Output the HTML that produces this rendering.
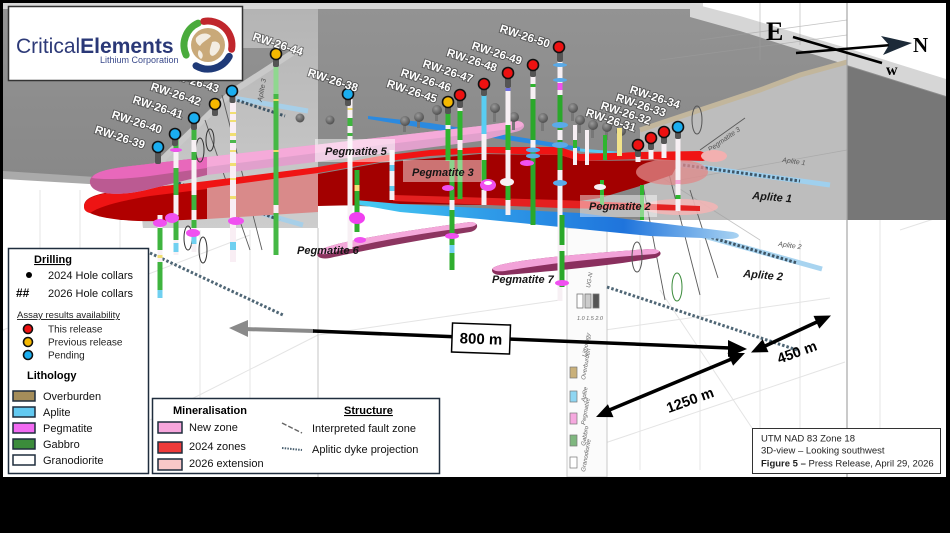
<!DOCTYPE html>
<html><head><meta charset="utf-8">
<style>
html,body{margin:0;padding:0;background:#000;}
svg{display:block;}
text{font-family:"Liberation Sans",Arial,sans-serif;}
.lb{font-size:11.5px;font-weight:bold;fill:#fff;stroke:rgba(40,40,40,0.55);stroke-width:1.8px;paint-order:stroke;}
.pl{font-size:11px;font-weight:bold;font-style:italic;fill:#161616;}
.lg{font-size:11px;fill:#111;}
.serif{font-family:"Liberation Serif",serif !important;font-weight:bold;}
</style></head><body>
<svg width="950" height="533" viewBox="0 0 950 533" xmlns="http://www.w3.org/2000/svg">
<defs>
 <linearGradient id="gLight" x1="0" y1="0" x2="0" y2="1">
  <stop offset="0" stop-color="#b4b4b4"/><stop offset="1" stop-color="#cdcdcd"/>
 </linearGradient>
 <linearGradient id="gMain" x1="0" y1="0" x2="0" y2="1">
  <stop offset="0" stop-color="#939393"/><stop offset="1" stop-color="#858585"/>
 </linearGradient>
 <linearGradient id="gBlue" x1="0" y1="0" x2="1" y2="0">
  <stop offset="0" stop-color="#48cdf3"/><stop offset="0.35" stop-color="#2f9be8"/><stop offset="0.7" stop-color="#1f74dc"/><stop offset="1" stop-color="#a9d3f2"/>
 </linearGradient>
 <radialGradient id="gBall" cx="0.4" cy="0.35" r="0.7">
  <stop offset="0" stop-color="#9a9a9a"/><stop offset="1" stop-color="#4a4a4a"/>
 </radialGradient>
</defs>

<!-- frame / background -->
<rect width="950" height="533" fill="#000"/>
<rect x="3" y="3" width="943" height="474" fill="#fff"/>

<!-- faint grid in white area -->
<g stroke="#e4e4e4" stroke-width="1" fill="none">
 <line x1="40" y1="190" x2="40" y2="470"/><line x1="80" y1="190" x2="80" y2="470"/>
 <line x1="120" y1="215" x2="120" y2="470"/><line x1="200" y1="230" x2="200" y2="400"/>
 <line x1="250" y1="230" x2="250" y2="400"/><line x1="3" y1="330" x2="250" y2="235"/>
 <line x1="150" y1="420" x2="318" y2="335"/><line x1="318" y1="335" x2="560" y2="300"/>
 <line x1="605" y1="443" x2="845" y2="362"/><line x1="605" y1="330" x2="830" y2="298"/>
 <line x1="640" y1="230" x2="640" y2="470"/><line x1="700" y1="240" x2="700" y2="470"/>
 <line x1="760" y1="240" x2="760" y2="470"/><line x1="800" y1="240" x2="800" y2="470"/>
 <line x1="880" y1="220" x2="880" y2="470"/><line x1="900" y1="230" x2="946" y2="215"/>
 <line x1="660" y1="290" x2="760" y2="440"/>
</g>

<!-- main gray surface -->
<polygon fill="url(#gMain)" points="3,8 700,8 740,22 800,40 850,55 946,85 946,220 640,220 580,219 480,212 318,204 318,228 143,228 141,185 3,176"/>
<rect x="3" y="3" width="700" height="6" fill="#d8d8d8"/>
<polygon fill="#d6d6d6" points="690,3 740,16 800,34 850,49 946,79 946,96 850,66 800,50 740,31 690,17"/>
<!-- left translucent light plane -->
<polygon fill="url(#gLight)" points="243,9 318,9 318,228 143,228 141,182 232,92 300,48 243,48"/>
<polyline fill="none" stroke="#c9c9c9" stroke-width="6" points="300,48 232,92 141,180"/>
<polygon fill="#aaaaaa" points="3,171 141,180 141,187 3,179"/>
<!-- right translucent plane -->
<polygon fill="#bdbdbd" points="640,130 700,110 760,90 800,75 847,62 847,220 640,220"/>
<polyline fill="none" stroke="#c2b69c" stroke-width="5" points="640,130 700,110 760,90 800,75 847,62"/>
<polygon fill="#777" points="847,66 946,97 946,220 847,220"/>
<line x1="847" y1="3" x2="847" y2="477" stroke="#a6a6a6" stroke-width="1.2"/>
<line x1="318" y1="228" x2="318" y2="477" stroke="#cfcfcf" stroke-width="1.2"/>
<g stroke="#9e9e9e" stroke-width="0.8" fill="none" opacity="0.6">
 <line x1="700" y1="40" x2="847" y2="20"/><line x1="660" y1="60" x2="847" y2="35"/>
 <line x1="760" y1="3" x2="760" y2="60"/><line x1="800" y1="3" x2="800" y2="45"/>
 <line x1="680" y1="180" x2="847" y2="150"/><line x1="650" y1="170" x2="760" y2="240"/>
</g>

<!-- scene lithology panel -->
<g>
 <rect x="567" y="228" width="40" height="249" fill="#fbfbfb" stroke="#c8c8c8" stroke-width="1"/>
 <rect x="577" y="294" width="6" height="14" fill="#fff" stroke="#777" stroke-width="0.8"/>
 <rect x="585" y="294" width="6" height="14" fill="#ccc" stroke="#777" stroke-width="0.8"/>
 <rect x="593" y="294" width="6" height="14" fill="#555" stroke="#777" stroke-width="0.8"/>
 <rect x="570" y="367" width="7" height="11" fill="#c9b07a" stroke="#777" stroke-width="0.7"/>
 <rect x="570" y="391" width="7" height="11" fill="#8fd6f2" stroke="#777" stroke-width="0.7"/>
 <rect x="570" y="413" width="7" height="11" fill="#f6a9df" stroke="#777" stroke-width="0.7"/>
 <rect x="570" y="435" width="7" height="11" fill="#7fb77f" stroke="#777" stroke-width="0.7"/>
 <rect x="570" y="457" width="7" height="11" fill="#fff" stroke="#777" stroke-width="0.7"/>
 <g font-size="6" fill="#666" font-style="italic">
  <text transform="translate(586,357) rotate(-80)">Lithology</text>
  <text transform="translate(585,380) rotate(-80)">Overburden</text>
  <text transform="translate(585,402) rotate(-80)">Aplite</text>
  <text transform="translate(585,425) rotate(-80)">Pegmatite</text>
  <text transform="translate(585,446) rotate(-80)">Gabbro</text>
  <text transform="translate(585,472) rotate(-80)">Granodiorite</text>
  <text transform="translate(590,288) rotate(-80)">UG-N</text>
  <text x="577" y="320" font-size="5.5">1.0 1.5 2.0</text>
 </g>
</g>

<!-- dotted dyke projections & aplite lines -->
<g fill="none" stroke-linecap="butt">
 <line x1="233" y1="98" x2="308" y2="111" stroke="#a7cfe8" stroke-width="5"/>
 <line x1="233" y1="99" x2="285" y2="116" stroke="#3e5566" stroke-width="3" stroke-dasharray="2.5 2"/>
 <line x1="250" y1="210" x2="303" y2="225" stroke="#a7cfe8" stroke-width="5"/>
 <line x1="170" y1="180" x2="280" y2="220" stroke="#3e5566" stroke-width="3" stroke-dasharray="2.5 2"/>
 <line x1="150" y1="253" x2="283" y2="315" stroke="#4f6675" stroke-width="3" stroke-dasharray="2.5 2"/>
 <line x1="607" y1="287" x2="797" y2="350" stroke="#4f6675" stroke-width="3" stroke-dasharray="2.5 2"/>
 <line x1="670" y1="163" x2="830" y2="185" stroke="#9fd0ee" stroke-width="5"/>
 <line x1="683" y1="165" x2="800" y2="181" stroke="#3e5566" stroke-width="3" stroke-dasharray="2.5 2"/>
 <line x1="693" y1="233" x2="822" y2="269" stroke="#a8d4f0" stroke-width="5"/>
 <line x1="703" y1="235" x2="797" y2="263" stroke="#3e5566" stroke-width="3" stroke-dasharray="2.5 2"/>
</g>
<g font-size="7" fill="#555" font-style="italic">
 <text transform="translate(782,162) rotate(8)">Aplite 1</text>
 <text transform="translate(778,246) rotate(8)">Aplite 2</text>
 <text transform="translate(710,152) rotate(-35)">Pegmatite 3</text>
 <text transform="translate(262,102) rotate(-80)">Aplite 3</text>
 <text transform="translate(252,205) rotate(-80)">Aplite 2</text>
</g>

<!-- trace lines -->
<g stroke="#5a5a5a" stroke-width="0.9" fill="none">
 <line x1="640" y1="170" x2="665" y2="300"/><line x1="668" y1="170" x2="700" y2="295"/>
 <line x1="690" y1="190" x2="718" y2="278"/><line x1="222" y1="95" x2="262" y2="250"/>
 <line x1="205" y1="120" x2="250" y2="250"/><line x1="700" y1="150" x2="745" y2="118"/>
</g>

<!-- Upper blue aplite -->
<polygon fill="#2b8ae0" points="368,116 430,123 500,134 580,147 580,151 500,139 430,129 368,119"/>
<line x1="580" y1="150" x2="700" y2="160" stroke="#5cc8f0" stroke-width="3"/>

<!-- Pegmatite 3 (red) -->
<polygon fill="#d98a8a" points="207,182 318,168 318,212 207,219"/>
<path fill="#b00000" d="M84,206 C84,197 98,193 125,190 L207,182 L207,219 L160,221 C115,222 84,216 84,206 Z"/>
<path fill="#ee1414" d="M84,207 C84,198 96,194 122,191 L207,181 L207,189 L150,196 C120,201 100,206 90,213 C86,212 84,210 84,207 Z"/>
<polygon fill="#a30000" points="318,174 380,163 480,154 560,155 580,161 680,160 672,175 640,186 600,198 560,204 480,205 400,204 318,206"/>
<ellipse cx="672" cy="172" rx="36" ry="13" fill="#e08a8a" opacity="0.75"/>
<polygon fill="#f01414" points="207,181 318,167 380,156 430,150 480,147 560,147 580,154 640,152 700,151 709,154 710,158 703,161 640,159 580,161 560,155 480,153 430,156 380,162 318,173 207,188"/>
<ellipse cx="714" cy="156" rx="13" ry="6" fill="#f2b0b0"/>

<!-- Pegmatite 2 -->
<ellipse cx="680" cy="207" rx="38" ry="8" fill="#f1b5b5" opacity="0.9"/>
<polygon fill="#e42020" points="393,195 560,200 700,206 700,211 560,208 393,201"/>

<!-- Lower blue aplite -->
<path fill="url(#gBlue)" d="M355,200 L400,204 L480,208 L580,213 L650,222 L700,228 L733,232 C742,234 741,239 728,239 L650,236 L580,229 L480,219 L400,212 L355,204 Z"/>

<!-- Pegmatite 5 -->
<path fill="#e1a0cc" d="M90,183 C88,172 110,168 140,165 L207,157 L340,142 L480,126 L516,121 C527,121 527,130 515,132 L480,141 L340,159 L207,175 L150,189 C120,197 92,195 90,183 Z"/>
<path fill="#f5aad9" d="M207,157 L340,142 L480,126 L516,121 C525,121 526,127 516,128 L480,133 L340,150 L207,167 Z"/>
<path fill="#bb5a92" d="M90,183 C88,172 110,168 140,165 L207,157 L207,175 L150,189 C120,197 92,195 90,183 Z"/>
<path fill="#e868bb" d="M92,178 C95,171 112,168 140,165 L207,157 L207,168 L150,176 C125,179 105,180 92,178 Z"/>

<!-- Pegmatite 6 -->
<path fill="#8c3560" d="M320,250 C335,242 390,233 470,222 C480,222 479,230 470,232 C420,240 360,251 330,258 C318,260 314,255 320,250 Z"/>
<path fill="#f4a8da" d="M320,250 C335,242 390,233 470,222 C478,222 478,226 470,227 C410,235 360,244 335,252 C325,256 316,254 320,250 Z"/>

<!-- Pegmatite 7 -->
<path fill="#8a2f5e" d="M493,268 C498,262 560,255 650,249 C662,249 664,255 655,258 C620,264 570,270 505,275 C494,276 490,272 493,268 Z"/>
<path fill="#f2a2d8" d="M493,268 C498,262 560,255 650,249 C660,249 662,252 655,254 C600,258 550,263 505,271 C495,272 492,270 493,268 Z"/>

<!-- trace ellipses -->
<g fill="none" stroke="#333" stroke-width="1">
 <ellipse cx="200" cy="150" rx="4" ry="12"/><ellipse cx="210" cy="140" rx="4" ry="11"/>
 <ellipse cx="203" cy="250" rx="4" ry="13"/><ellipse cx="188" cy="238" rx="4" ry="12"/>
 <ellipse cx="637" cy="257" rx="5" ry="15" stroke="#555"/>
 <ellipse cx="677" cy="287" rx="5" ry="14" stroke="#3a8a3a"/>
 <ellipse cx="697" cy="120" rx="5" ry="14" stroke="#555"/>
</g>

<!-- 2024 gray collars -->
<g fill="url(#gBall)">
 <rect x="403" y="122" width="3" height="10" fill="#777"/><circle cx="405" cy="121" r="5"/>
 <rect x="417" y="118" width="3" height="10" fill="#777"/><circle cx="419" cy="117" r="5"/>
 <rect x="435" y="111" width="3" height="10" fill="#777"/><circle cx="437" cy="110" r="5"/>
 <rect x="493" y="112" width="3" height="10" fill="#777"/><circle cx="495" cy="108" r="5"/>
 <rect x="541" y="121" width="3" height="10" fill="#777"/><circle cx="543" cy="118" r="5"/>
 <rect x="571" y="111" width="3" height="10" fill="#777"/><circle cx="573" cy="108" r="5"/>
 <rect x="578" y="123" width="3" height="10" fill="#777"/><circle cx="580" cy="120" r="5"/>
 <rect x="591" y="128" width="3" height="10" fill="#777"/><circle cx="593" cy="125" r="5"/>
 <rect x="605" y="130" width="3" height="10" fill="#777"/><circle cx="607" cy="127" r="5"/>
 <rect x="619" y="133" width="3" height="10" fill="#777"/><circle cx="621" cy="131" r="5"/>
 <rect x="512" y="120" width="3" height="10" fill="#777"/><circle cx="514" cy="117" r="5"/>
 <circle cx="330" cy="120" r="4.5"/><circle cx="300" cy="118" r="4.5"/>
</g>

<!-- drill holes -->
<g>
 <rect x="273.5" y="60" width="5" height="195" fill="#45b845"/>
 <rect x="273.5" y="62" width="5" height="32" fill="#8fd88f"/>
 <rect x="273.5" y="99" width="5" height="2" fill="#e8e060"/><rect x="273.5" y="150" width="5" height="2" fill="#e8e060"/>
 <rect x="273.5" y="205" width="5" height="8" fill="#f5f0f3"/>
 <rect x="230" y="96" width="6" height="166" fill="#f9eef4"/>
 <g fill="#f1df72"><rect x="230" y="112" width="6" height="2"/><rect x="230" y="120" width="6" height="2"/><rect x="230" y="133" width="6" height="3"/><rect x="230" y="150" width="6" height="2"/><rect x="230" y="163" width="6" height="3"/><rect x="230" y="178" width="6" height="2"/><rect x="230" y="196" width="6" height="3"/></g>
 <rect x="230" y="140" width="6" height="3" fill="#4cb84c"/><rect x="230" y="242" width="6" height="8" fill="#70d0f0"/>
 <rect x="191.5" y="122" width="5" height="130" fill="#f7f0f4"/>
 <g fill="#3fb43f"><rect x="191.5" y="122" width="5" height="18"/><rect x="191.5" y="152" width="5" height="8"/><rect x="191.5" y="195" width="5" height="15"/><rect x="191.5" y="220" width="5" height="8"/></g>
 <rect x="191.5" y="236" width="5" height="8" fill="#70d0f0"/>
 <rect x="173.5" y="139" width="5" height="116" fill="#f7f0f4"/>
 <g fill="#3fb43f"><rect x="173.5" y="139" width="5" height="13"/><rect x="173.5" y="168" width="5" height="27"/><rect x="173.5" y="215" width="5" height="25"/></g>
 <rect x="173.5" y="243" width="5" height="9" fill="#70d0f0"/>
 <rect x="157.5" y="215" width="5" height="83" fill="#f7f0f4"/>
 <rect x="157.5" y="228" width="5" height="22" fill="#3fb43f"/><rect x="157.5" y="262" width="5" height="28" fill="#3fb43f"/>
 <rect x="157.5" y="255" width="5" height="3" fill="#f1df72"/><rect x="157.5" y="290" width="5" height="8" fill="#70d0f0"/>
 <rect x="347.5" y="99" width="5" height="150" fill="#f7f0f4"/>
 <rect x="347.5" y="118" width="5" height="8" fill="#3fb43f"/><rect x="347.5" y="108" width="5" height="2" fill="#f1df72"/><rect x="347.5" y="133" width="5" height="3" fill="#3fb43f"/>
 <rect x="354.5" y="170" width="5" height="62" fill="#2fae2f"/><rect x="354.5" y="185" width="5" height="6" fill="#f3e27a"/>
 <rect x="389.5" y="150" width="5" height="50" fill="#f7f0f4"/><rect x="389.5" y="165" width="5" height="6" fill="#60ccf0"/><rect x="389.5" y="186" width="5" height="5" fill="#60ccf0"/>
 <rect x="449.5" y="160" width="5" height="110" fill="#2fae2f"/><rect x="449.5" y="200" width="5" height="10" fill="#f7f0f4"/><rect x="449.5" y="245" width="5" height="8" fill="#70d0f0"/>
 <rect x="445.5" y="106" width="5" height="55" fill="#2fb52f"/><rect x="445.5" y="125" width="5" height="4" fill="#f7f0f4"/>
 <rect x="457.5" y="99" width="5" height="100" fill="#2fb52f"/><rect x="457.5" y="99" width="5" height="12" fill="#f7f0f4"/><rect x="457.5" y="140" width="5" height="10" fill="#f7f0f4"/>
 <rect x="481.5" y="88" width="5" height="117" fill="#f7f0f4"/><rect x="481.5" y="92" width="5" height="42" fill="#59cdf2"/><rect x="481.5" y="160" width="5" height="30" fill="#2fb52f"/>
 <rect x="505.5" y="77" width="5" height="138" fill="#f7f0f4"/><rect x="505.5" y="88" width="5" height="3" fill="#7070e0"/><rect x="505.5" y="125" width="5" height="25" fill="#2fb52f"/><rect x="505.5" y="180" width="5" height="20" fill="#2fb52f"/>
 <rect x="530.5" y="69" width="5" height="156" fill="#2aa82a"/><rect x="530.5" y="69" width="5" height="30" fill="#f7f0f4"/><rect x="530.5" y="84" width="5" height="3" fill="#2fb52f"/><rect x="530.5" y="140" width="5" height="10" fill="#f7f0f4"/>
 <rect x="557.5" y="51" width="5" height="250" fill="#f7f0f4"/>
 <rect x="557.5" y="83" width="5" height="7" fill="#f050f0"/><rect x="557.5" y="95" width="5" height="35" fill="#2aa82a"/><rect x="557.5" y="140" width="5" height="30" fill="#2aa82a"/>
 <rect x="559.5" y="215" width="5" height="72" fill="#2aa82a"/><rect x="559.5" y="245" width="5" height="6" fill="#f7f0f4"/>
 <rect x="573" y="125" width="4" height="40" fill="#f7f0f4"/><rect x="573" y="140" width="4" height="8" fill="#2fb52f"/>
 <rect x="585" y="130" width="4" height="35" fill="#f7f0f4"/>
 <rect x="617" y="128" width="5" height="28" fill="#f1e38a"/>
 <rect x="603" y="135" width="4" height="25" fill="#2fb52f"/>
 <rect x="635.5" y="150" width="5" height="12" fill="#f7f0f4"/>
 <rect x="648.5" y="143" width="5" height="16" fill="#f7f0f4"/>
 <rect x="661.5" y="136" width="5" height="22" fill="#f7f0f4"/>
 <rect x="675.5" y="131" width="5" height="80" fill="#f7f0f4"/><rect x="675.5" y="180" width="5" height="4" fill="#f7a8d8"/><rect x="675.5" y="195" width="5" height="4" fill="#2fb52f"/>
 <rect x="640" y="185" width="4" height="35" fill="#2fb52f"/>
 <rect x="600" y="180" width="4" height="25" fill="#2fb52f"/>
</g>
<!-- discs -->
<g>
 <ellipse cx="560" cy="65" rx="7" ry="2" fill="#5aaae8"/><ellipse cx="560" cy="80" rx="7" ry="2" fill="#5aaae8"/>
 <ellipse cx="560" cy="125" rx="8" ry="3" fill="#5aaae8"/><ellipse cx="560" cy="145" rx="8" ry="3" fill="#5aaae8"/>
 <ellipse cx="533" cy="150" rx="7" ry="2.5" fill="#5aaae8"/><ellipse cx="533" cy="156" rx="7" ry="2.5" fill="#5aaae8"/>
 <ellipse cx="560" cy="183" rx="7" ry="3" fill="#5aaae8"/>
 <ellipse cx="236" cy="221" rx="8" ry="4" fill="#f050f0"/>
 <ellipse cx="193" cy="233" rx="7" ry="4" fill="#f050f0"/>
 <ellipse cx="172" cy="218" rx="7" ry="5" fill="#f050f0"/>
 <ellipse cx="160" cy="223" rx="7" ry="4" fill="#f050f0"/>
 <ellipse cx="176" cy="150" rx="6" ry="2" fill="#f050f0"/>
 <ellipse cx="357" cy="218" rx="8" ry="6" fill="#f040f0"/>
 <ellipse cx="488" cy="185" rx="8" ry="6" fill="#f050f0"/><ellipse cx="488" cy="183" rx="4" ry="2" fill="#fff"/>
 <ellipse cx="527" cy="163" rx="7" ry="3" fill="#f050f0"/>
 <ellipse cx="448" cy="188" rx="6" ry="3" fill="#f050f0"/>
 <ellipse cx="600" cy="187" rx="6" ry="3" fill="#f7f0f4"/>
 <ellipse cx="452" cy="236" rx="7" ry="3" fill="#f050f0"/>
 <ellipse cx="562" cy="283" rx="7" ry="3" fill="#f050f0"/>
 <ellipse cx="507" cy="182" rx="7" ry="4" fill="#f7f0f4"/>
 <ellipse cx="360" cy="240" rx="6" ry="3" fill="#f050f0"/>
</g>

<!-- collar dots with stems -->
<g>
 <g fill="#555">
  <rect x="273" y="58" width="6" height="9" rx="2"/><rect x="229.5" y="94" width="6" height="9" rx="2"/>
  <rect x="212" y="107" width="6" height="9" rx="2"/><rect x="191" y="121" width="6" height="9" rx="2"/>
  <rect x="172" y="137" width="6" height="9" rx="2"/><rect x="155" y="150" width="6" height="14" rx="2"/>
  <rect x="345" y="97" width="6" height="9" rx="2"/><rect x="445" y="105" width="6" height="9" rx="2"/>
  <rect x="457" y="99" width="6" height="9" rx="2"/><rect x="481" y="87" width="6" height="9" rx="2"/>
  <rect x="505" y="76" width="6" height="12" rx="2"/><rect x="530" y="68" width="6" height="9" rx="2"/>
  <rect x="557" y="50" width="6" height="12" rx="2"/><rect x="635" y="148" width="6" height="9" rx="2"/>
  <rect x="648" y="141" width="6" height="9" rx="2"/><rect x="661" y="135" width="6" height="9" rx="2"/>
  <rect x="675" y="130" width="6" height="9" rx="2"/>
 </g>
 <g stroke="#111" stroke-width="1.6">
  <circle cx="276" cy="54" r="5.5" fill="#f5b800"/>
  <circle cx="232" cy="91" r="5.5" fill="#1aaef0"/>
  <circle cx="215" cy="104" r="5.5" fill="#f5b800"/>
  <circle cx="194" cy="118" r="5.5" fill="#1aaef0"/>
  <circle cx="175" cy="134" r="5.5" fill="#1aaef0"/>
  <circle cx="158" cy="147" r="5.5" fill="#1aaef0"/>
  <circle cx="348" cy="94" r="5.5" fill="#1aaef0"/>
  <circle cx="448" cy="102" r="5.5" fill="#f5b800"/>
  <circle cx="460" cy="95" r="5.5" fill="#ee1111"/>
  <circle cx="484" cy="84" r="5.5" fill="#ee1111"/>
  <circle cx="508" cy="73" r="5.5" fill="#ee1111"/>
  <circle cx="533" cy="65" r="5.5" fill="#ee1111"/>
  <circle cx="559" cy="47" r="5.5" fill="#ee1111"/>
  <circle cx="638" cy="145" r="5.5" fill="#ee1111"/>
  <circle cx="651" cy="138" r="5.5" fill="#ee1111"/>
  <circle cx="664" cy="132" r="5.5" fill="#ee1111"/>
  <circle cx="678" cy="127" r="5.5" fill="#1aaef0"/>
 </g>
</g>

<!-- hole labels -->
<g class="lb" text-anchor="middle">
 <text x="278" y="48" transform="rotate(18 278 44)">RW-26-44</text>
 <text x="194" y="85" transform="rotate(18 194 81)">RW-26-43</text>
 <text x="176" y="98" transform="rotate(18 176 94)">RW-26-42</text>
 <text x="158" y="111" transform="rotate(18 158 107)">RW-26-41</text>
 <text x="137" y="126" transform="rotate(18 137 122)">RW-26-40</text>
 <text x="120" y="141" transform="rotate(18 120 137)">RW-26-39</text>
 <text x="333" y="84" transform="rotate(18 333 80)">RW-26-38</text>
 <text x="412" y="95" transform="rotate(18 412 91)">RW-26-45</text>
 <text x="426" y="84" transform="rotate(18 426 80)">RW-26-46</text>
 <text x="448" y="75" transform="rotate(18 448 71)">RW-26-47</text>
 <text x="472" y="64" transform="rotate(18 472 60)">RW-26-48</text>
 <text x="497" y="57" transform="rotate(18 497 53)">RW-26-49</text>
 <text x="525" y="40" transform="rotate(18 525 36)">RW-26-50</text>
 <text x="655" y="101" transform="rotate(18 655 97)">RW-26-34</text>
 <text x="641" y="109" transform="rotate(18 641 105)">RW-26-33</text>
 <text x="626" y="117" transform="rotate(18 626 113)">RW-26-32</text>
 <text x="611" y="124" transform="rotate(18 611 120)">RW-26-31</text>
</g>

<!-- logo box -->
<rect x="8.5" y="6.5" width="234" height="74" fill="#fff" stroke="#333" stroke-width="1.5"/>
<text x="16" y="53" font-size="21" fill="#2d3a78">Critical<tspan font-weight="bold" fill="#2a3877">Elements</tspan></text>
<text x="100" y="63" font-size="9" fill="#3b4b8c">Lithium Corporation</text>
<circle cx="208" cy="45" r="17" fill="#c9a979"/>
<path d="M196,38 C200,33 207,32 211,36 C208,40 203,41 200,46 C197,44 195,41 196,38 Z" fill="#f3ede2"/>
<path d="M212,42 C218,40 222,45 219,50 C216,55 212,58 210,54 C209,50 211,46 212,42 Z" fill="#f3ede2"/>
<path d="M199,50 C203,52 204,57 201,59 C198,57 197,53 199,50 Z" fill="#f3ede2"/>
<g fill="none" stroke-width="7" stroke-linecap="round">
 <path d="M186.2,55.1 A24,24 0 0 1 198.2,23.1" stroke="#4aab3c"/>
 <path d="M203.8,21.4 A24,24 0 0 1 231.6,49.2" stroke="#c0262c"/>
 <path d="M229.3,56.4 A24,24 0 0 1 196,65.8" stroke="#1f3a78"/>
</g>

<!-- Pegmatite / aplite labels -->
<rect x="315" y="139" width="80" height="23" fill="#fff" opacity="0.5"/>
<text class="pl" x="325" y="155">Pegmatite 5</text>
<rect x="403" y="160" width="79" height="22" fill="#fff" opacity="0.45"/>
<text class="pl" x="412" y="176">Pegmatite 3</text>
<rect x="580" y="195" width="77" height="22" fill="#fff" opacity="0.45"/>
<text class="pl" x="589" y="210">Pegmatite 2</text>
<text class="pl" x="297" y="254">Pegmatite 6</text>
<text class="pl" x="492" y="283">Pegmatite 7</text>
<text class="pl" x="752" y="199" transform="rotate(5 752 199)">Aplite 1</text>
<text class="pl" x="743" y="277" transform="rotate(5 743 277)">Aplite 2</text>

<!-- distance arrows -->
<line x1="244" y1="329" x2="314" y2="331" stroke="#8a8a8a" stroke-width="4"/>
<polygon points="229,328 248,320 248,337" fill="#8a8a8a"/>
<line x1="313" y1="331" x2="730" y2="348" stroke="#000" stroke-width="3.5"/>
<polygon points="747,349 728,340 728,357" fill="#000"/>
<g transform="rotate(2 481 339)">
 <rect x="452" y="324" width="58" height="29" fill="#fff" stroke="#000" stroke-width="1.5"/>
 <text x="481" y="344" font-size="15" font-weight="bold" text-anchor="middle" fill="#000">800 m</text>
</g>
<line x1="607" y1="411" x2="734" y2="358" stroke="#000" stroke-width="3.5"/>
<polygon points="745,353 733.1,365.7 727.5,352.9" fill="#000"/>
<polygon points="596,417 613.5,417.1 607.9,404.3" fill="#000"/>
<line x1="763" y1="347" x2="819" y2="321" stroke="#000" stroke-width="3.5"/>
<polygon points="831,315.5 819.3,328.6 813.5,315.9" fill="#000"/>
<polygon points="751,352.5 768.5,352.1 762.7,339.3" fill="#000"/>
<text x="690" y="405" font-size="14.5" font-weight="bold" text-anchor="middle" transform="rotate(-20 690 400)">1250 m</text>
<text x="797" y="357" font-size="14.5" font-weight="bold" text-anchor="middle" transform="rotate(-20 797 352)">450 m</text>

<!-- compass -->
<line x1="793" y1="37" x2="882" y2="63" stroke="#000" stroke-width="2.5"/>
<line x1="796" y1="53" x2="892" y2="45" stroke="#000" stroke-width="2.5"/>
<polygon points="912,43 881,36 889,45 883,55" fill="#1c2a38"/>
<text class="serif" x="766" y="40" font-size="26" fill="#000">E</text>
<text class="serif" x="913" y="52" font-size="21" fill="#000">N</text>
<text class="serif" x="886" y="75" font-size="16" fill="#000">w</text>

<!-- left legend -->
<rect x="8.5" y="248.5" width="140" height="225" fill="#fff" stroke="#1f2d3d" stroke-width="1.5"/>
<text x="53" y="263" font-size="11" font-weight="bold" text-anchor="middle" text-decoration="underline">Drilling</text>
<circle cx="29" cy="275" r="3" fill="#000"/>
<text class="lg" x="48" y="279">2024 Hole collars</text>
<text x="16" y="297" font-size="12" font-weight="bold">##</text>
<text class="lg" x="48" y="297">2026 Hole collars</text>
<text x="17" y="318" font-size="9.5" fill="#222" text-decoration="underline">Assay results availability</text>
<g stroke="#111" stroke-width="1.6">
 <circle cx="28" cy="329" r="4.5" fill="#ee1111"/>
 <circle cx="28" cy="342" r="4.5" fill="#f5b800"/>
 <circle cx="28" cy="355" r="4.5" fill="#1aaef0"/>
</g>
<text x="48" y="332.5" font-size="10" fill="#222">This release</text>
<text x="48" y="345.5" font-size="10" fill="#222">Previous release</text>
<text x="48" y="358.5" font-size="10" fill="#222">Pending</text>
<text x="27" y="379" font-size="11" font-weight="bold">Lithology</text>
<g stroke="#1f2d3d" stroke-width="1.5">
 <rect x="13" y="391" width="22" height="10" fill="#a48d5a"/>
 <rect x="13" y="407" width="22" height="10" fill="#62c9f1"/>
 <rect x="13" y="423" width="22" height="10" fill="#f26af2"/>
 <rect x="13" y="439" width="22" height="10" fill="#3b8c3b"/>
 <rect x="13" y="455" width="22" height="10" fill="#fff"/>
</g>
<text class="lg" x="43" y="400">Overburden</text>
<text class="lg" x="43" y="416">Aplite</text>
<text class="lg" x="43" y="432">Pegmatite</text>
<text class="lg" x="43" y="448">Gabbro</text>
<text class="lg" x="43" y="464">Granodiorite</text>

<!-- mineralisation legend -->
<rect x="152.5" y="398.5" width="287" height="75" fill="#fff" stroke="#1f2d3d" stroke-width="1.5"/>
<text x="173" y="414" font-size="11" font-weight="bold">Mineralisation</text>
<text x="344" y="414" font-size="11" font-weight="bold" text-decoration="underline">Structure</text>
<g stroke="#1f2d3d" stroke-width="1.5">
 <rect x="158" y="422" width="24" height="11" fill="#f7a6dc"/>
 <rect x="158" y="442" width="24" height="11" fill="#ee3a3a"/>
 <rect x="158" y="459" width="24" height="11" fill="#f8c8c8"/>
</g>
<text class="lg" x="189" y="431">New zone</text>
<text class="lg" x="189" y="450">2024 zones</text>
<text class="lg" x="189" y="467">2026 extension</text>
<line x1="282" y1="423" x2="302" y2="433" stroke="#666" stroke-width="1.5" stroke-dasharray="5 2"/>
<line x1="282" y1="448" x2="302" y2="450" stroke="#4a6070" stroke-width="2" stroke-dasharray="1.5 1.2"/>
<text class="lg" x="312" y="432">Interpreted fault zone</text>
<text class="lg" x="312" y="453">Aplitic dyke projection</text>

<!-- info box -->
<rect x="752.5" y="428.5" width="188" height="45" fill="#fff" stroke="#333" stroke-width="1"/>
<text x="761" y="441.5" font-size="9.5" fill="#222">UTM NAD 83 Zone 18</text>
<text x="761" y="453.5" font-size="9.5" fill="#222">3D-view – Looking southwest</text>
<text x="761" y="466.5" font-size="9.5" fill="#222"><tspan font-weight="bold">Figure 5 –</tspan> Press Release, April 29, 2026</text>

<!-- frame -->
<rect x="0" y="0" width="950" height="3" fill="#000"/>
<rect x="0" y="0" width="3" height="533" fill="#000"/>
<rect x="946" y="0" width="4" height="533" fill="#000"/>
<rect x="0" y="477" width="950" height="56" fill="#000"/>
</svg>
</body></html>
